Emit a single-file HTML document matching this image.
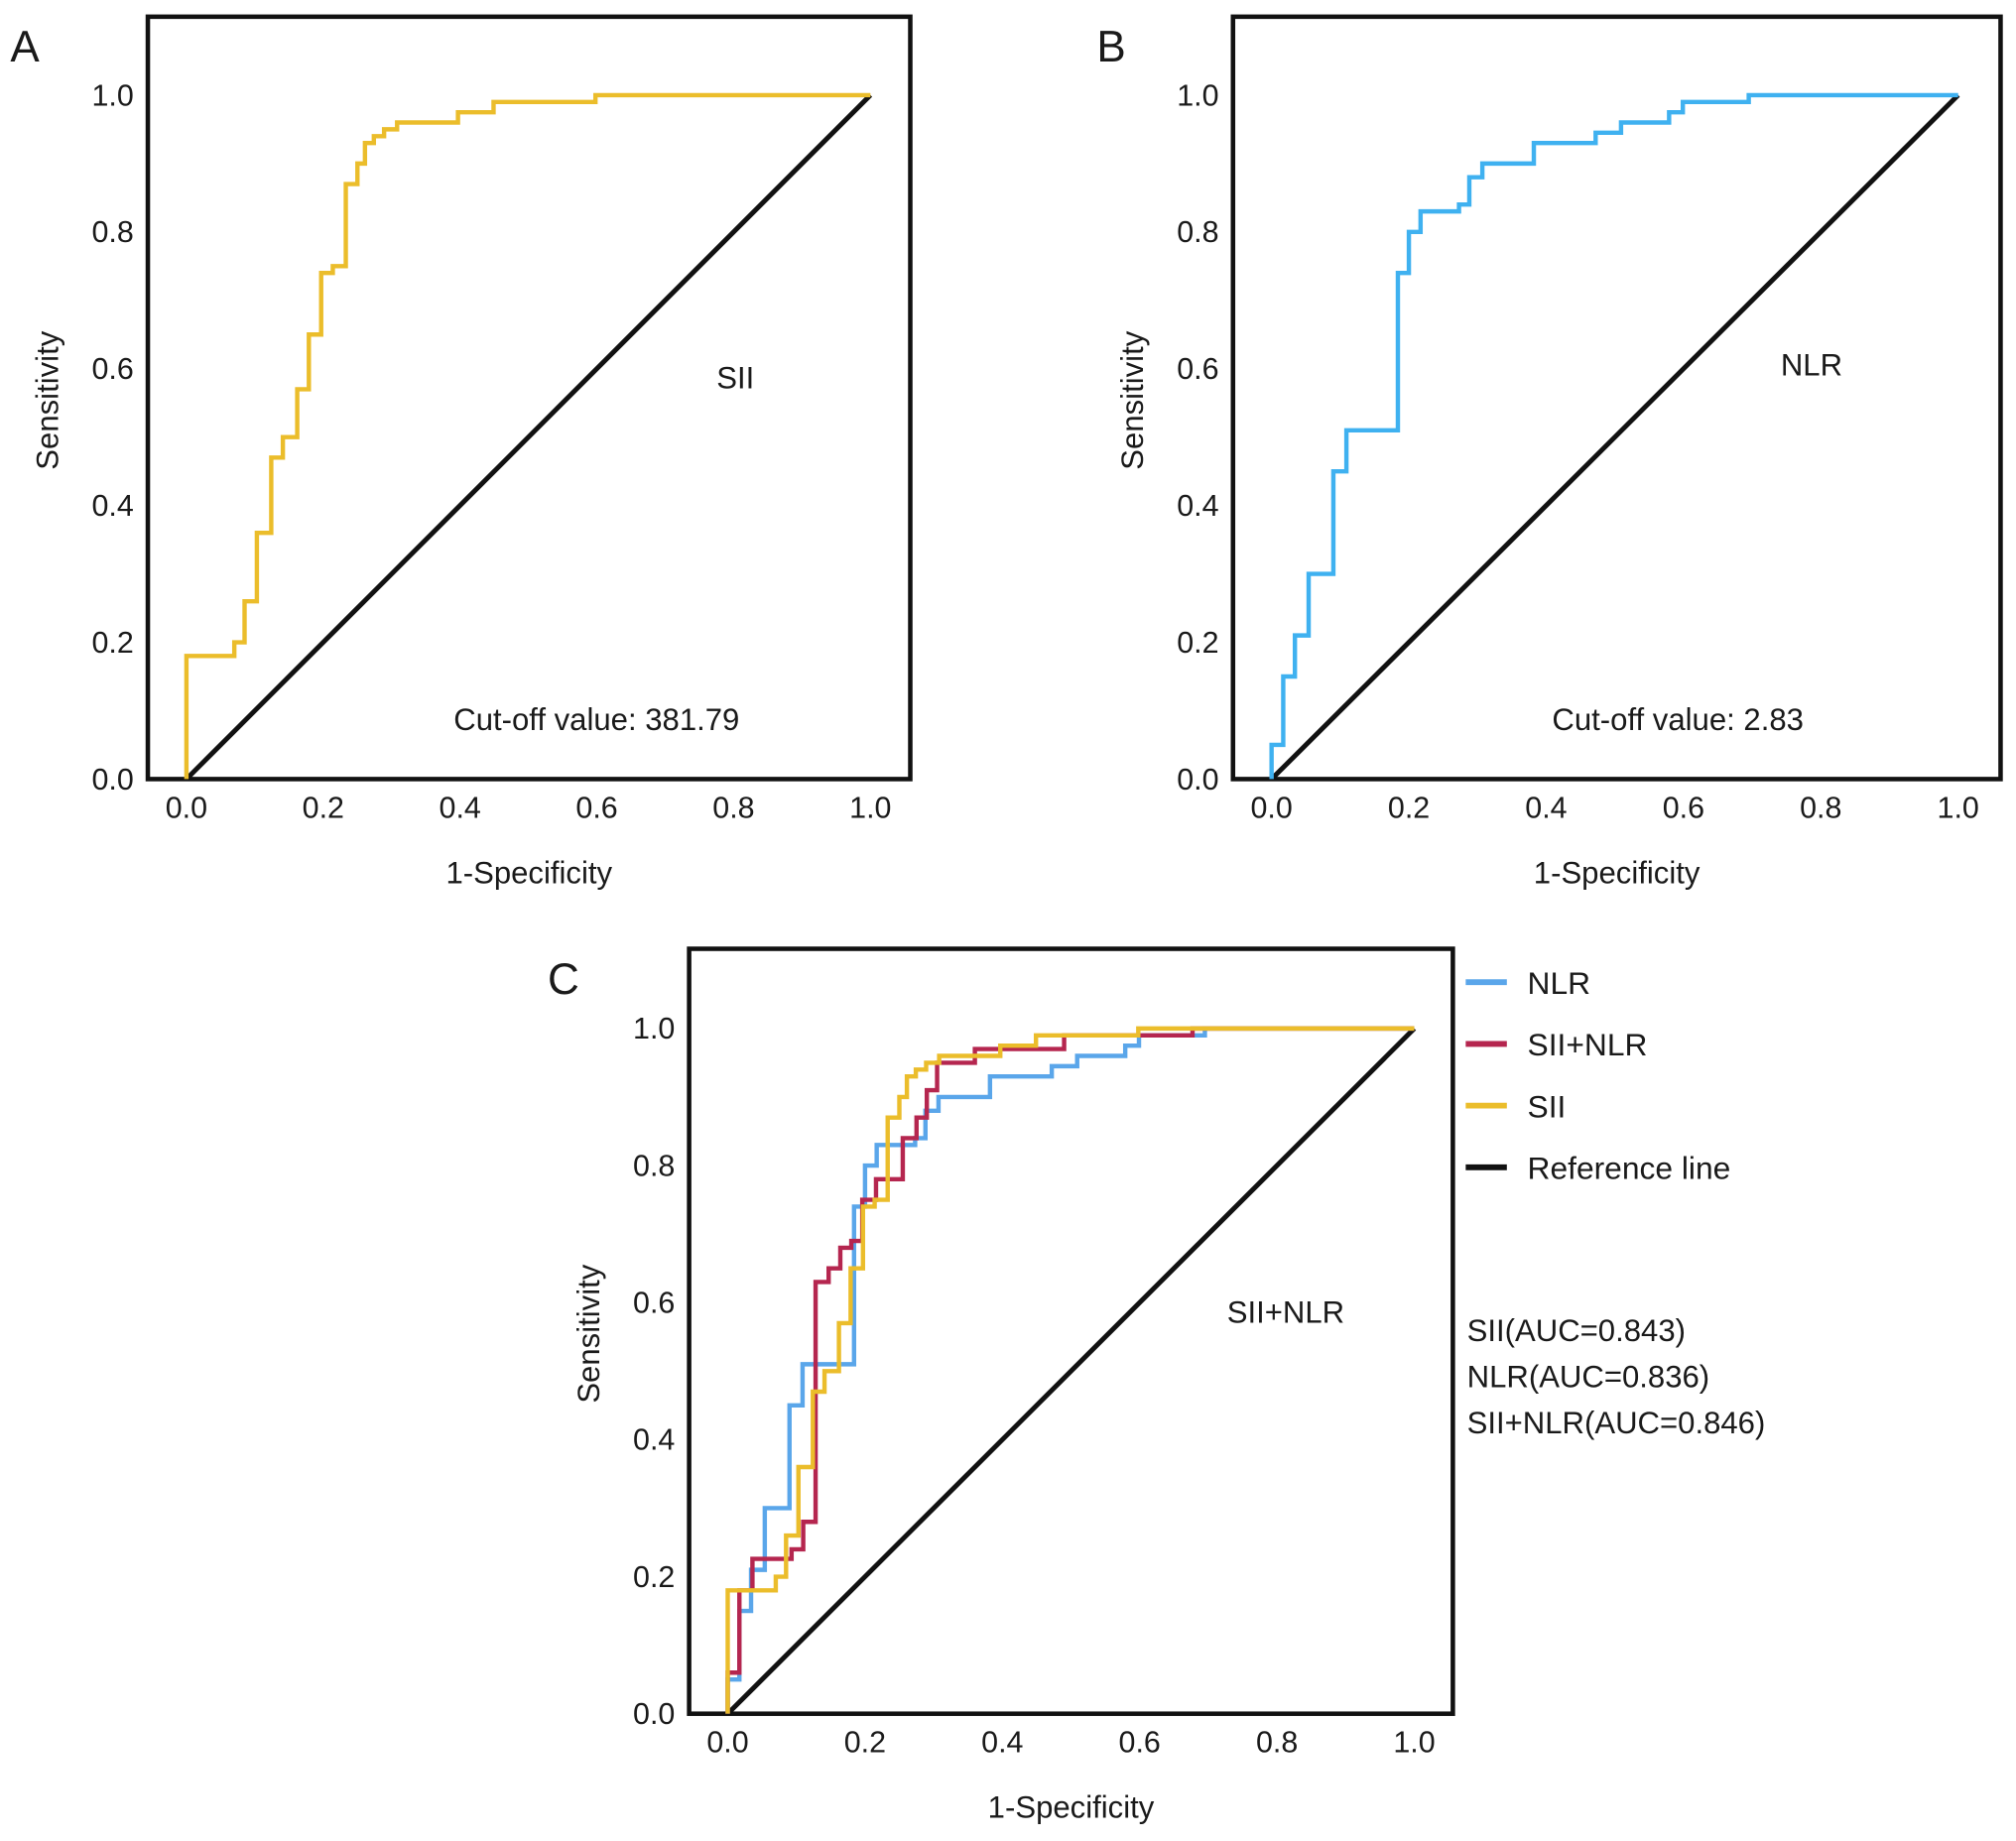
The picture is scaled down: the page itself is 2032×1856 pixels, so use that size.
<!DOCTYPE html>
<html><head><meta charset="utf-8"><style>
html,body{margin:0;padding:0;background:#fff;}
svg{display:block;font-family:"Liberation Sans",Arial,sans-serif;}
</style></head><body>
<svg id="fig" width="2032" height="1856" viewBox="0 0 1568 1432" preserveAspectRatio="none" xmlns="http://www.w3.org/2000/svg"></svg>
<script>
// Data
const ticks = [0, 0.2, 0.4, 0.6, 0.8, 1.0];
const tickLabels = ["0.0", "0.2", "0.4", "0.6", "0.8", "1.0"];
const siiFpr = [0,0,0.07,0.085,0.103,0.124,0.141,0.162,0.179,0.197,0.214,0.233,0.25,0.261,0.274,0.289,0.308,0.397,0.449,0.598,1];
const siiTpr = [0,0.18,0.2,0.26,0.36,0.47,0.5,0.57,0.65,0.74,0.75,0.87,0.9,0.93,0.94,0.95,0.96,0.975,0.99,1,1];
const nlrFpr = [0,0,0.017,0.034,0.054,0.09,0.109,0.184,0.2,0.217,0.273,0.288,0.307,0.382,0.472,0.509,0.579,0.599,0.695,1];
const nlrTpr = [0,0.05,0.15,0.21,0.3,0.45,0.51,0.74,0.8,0.83,0.84,0.88,0.9,0.93,0.945,0.96,0.975,0.99,1,1];
const combFpr = [0,0,0.017,0.036,0.093,0.11,0.128,0.147,0.164,0.18,0.196,0.216,0.255,0.275,0.29,0.305,0.36,0.49,0.677,1];
const combTpr = [0,0.06,0.18,0.226,0.24,0.28,0.63,0.65,0.68,0.69,0.75,0.78,0.84,0.87,0.91,0.95,0.97,0.99,1,1];
const aucLabels = ["SII(AUC=0.843)", "NLR(AUC=0.836)", "SII+NLR(AUC=0.846)"];

const NS = "http://www.w3.org/2000/svg";
const svg = document.getElementById('fig');
const C = {sii:"#ebbd2b", nlr:"#3fb1f0", nlrC:"#5aa6ea", comb:"#b5264f"};

function mk(tag, attrs, parent) {
  const e = document.createElementNS(NS, tag);
  for (const k in attrs) e.setAttribute(k, attrs[k]);
  (parent || svg).appendChild(e);
  return e;
}
function txt(s, x, y, size, anchor, parent) {
  const t = mk('text', {x:x, y:y, 'font-size':size, 'text-anchor':anchor || 'start', fill:'#1a1a1a'}, parent);
  t.textContent = s;
  return t;
}

function panel(p) {
  const g = mk('g', {});
  
  
  const sx = v => p.x0 + v * (p.x1 - p.x0);
  const sy = v => p.y0 - v * (p.y0 - p.y1);
  const box = mk('rect', {x:p.bl, y:p.bt, width:p.br - p.bl, height:p.bb - p.bt, fill:'none', stroke:'#111', 'stroke-width':3.5}, g);
  
  
  ticks.forEach((v, i) => {
    const ty = txt(tickLabels[i], p.bl - 11, sy(v) + 8, 23.5, 'end', g);
    
    
    const tx = txt(tickLabels[i], sx(v), p.bb + 30, 23.5, 'middle', g);
    
    
  });
  const xt = txt('1-Specificity', (p.bl + p.br) / 2, p.bb + 81, 24, 'middle', g);
  
  
  const cy = (p.bt + p.bb) / 2 + 2;
  const yt = txt('Sensitivity', 0, 0, 24, 'middle', g);
  yt.setAttribute('transform', 'translate(' + (p.bl - 70) + ',' + cy + ') rotate(-90)');
  
  
  const pl = txt(p.letter, p.lx, p.ly, 34, 'start', g);
  
  
  const ref = mk('line', {x1:sx(0), y1:sy(0), x2:sx(1), y2:sy(1), stroke:'#111', 'stroke-width':3.8}, g);
  
  
  p.series.forEach(s => {
    let d = 'M' + sx(s.fpr[0]) + ' ' + sy(s.tpr[0]);
    for (let i = 1; i < s.fpr.length; i++) {
      d += ' H' + sx(s.fpr[i]) + ' V' + sy(s.tpr[i]);
    }
    const path = mk('path', {d:d, fill:'none', stroke:s.color, 'stroke-width':3.4, 'stroke-linejoin':'miter'}, g);
    
    
  });
  return {g, sx, sy};
}

const A = panel({name:'panel-a-sii', letter:'A', lx:8, ly:48, bl:115, br:708, bt:13, bb:606, x0:145, x1:677, y0:606, y1:74,
  series:[{fpr:siiFpr, tpr:siiTpr, color:C.sii, name:'sii-roc-curve'}]});
let t = txt('SII', 572, 302, 24, 'middle', A.g);
 
t = txt('Cut-off value: 381.79', 464, 568, 24, 'middle', A.g);
 

const B = panel({name:'panel-b-nlr', letter:'B', lx:853, ly:48, bl:959, br:1556, bt:13, bb:606, x0:989, x1:1523, y0:606, y1:74,
  series:[{fpr:nlrFpr, tpr:nlrTpr, color:C.nlr, name:'nlr-roc-curve'}]});
t = txt('NLR', 1409, 292, 24, 'middle', B.g);
 
t = txt('Cut-off value: 2.83', 1305, 568, 24, 'middle', B.g);
 

const Cp = panel({name:'panel-c-combined', letter:'C', lx:426, ly:773, bl:536, br:1130, bt:738, bb:1333, x0:566, x1:1100, y0:1333, y1:800,
  series:[{fpr:nlrFpr, tpr:nlrTpr, color:C.nlrC, name:'nlr-roc-curve'},
          {fpr:combFpr, tpr:combTpr, color:C.comb, name:'sii-nlr-roc-curve'},
          {fpr:siiFpr, tpr:siiTpr, color:C.sii, name:'sii-roc-curve'}]});
t = txt('SII+NLR', 1000, 1029, 24, 'middle', Cp.g);
 

const legendItems = [["NLR", C.nlrC, 764], ["SII+NLR", C.comb, 812], ["SII", C.sii, 860], ["Reference line", "#111", 908]];
legendItems.forEach(it => {
  const lg = mk('g', {});
  
  
  mk('line', {x1:1140, x2:1172, y1:it[2], y2:it[2], stroke:it[1], 'stroke-width':4.5}, lg);
  txt(it[0], 1188, it[2] + 9, 24.5, 'start', lg);
});
aucLabels.forEach((s, i) => {
  const a = txt(s, 1141, 1043 + i * 36, 24, 'start');
  
  
});
</script>
</body></html>
